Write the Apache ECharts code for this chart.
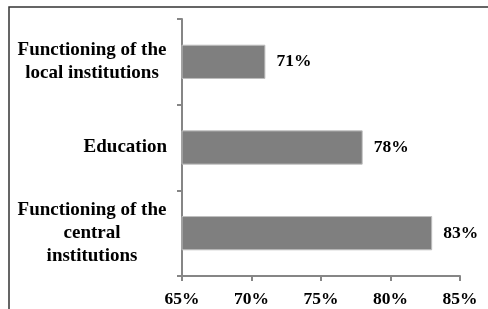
<!DOCTYPE html>
<html style="height: 100%">
<head>
    <meta charset="utf-8">
    <title>Bar chart</title>
</head>
<body style="height: 100%; margin: 0; background: #fff">
<div id="container" style="width: 488px; height: 309px"></div>
<script type="text/javascript" src="https://cdn.jsdelivr.net/npm/echarts@6/dist/echarts.min.js"></script>
<script type="text/javascript">
    var categories = ['Functioning of the\nlocal institutions', 'Education', 'Functioning of the\ncentral\ninstitutions'];
    var values = [71, 78, 83];
    var tickMin = 65, tickMax = 85, tickStep = 5;

    var font = 'Liberation Serif';
    var catSize = 19;
    var numSize = 17.5;

    // width of the widest line, so the multi-line labels can be centred inside it
    var ctx = document.createElement('canvas').getContext('2d');
    ctx.font = 'bold ' + catSize + 'px "' + font + '"';
    function blockWidth(lines) {
        var w = 0;
        lines.forEach(function (l) { w = Math.max(w, ctx.measureText(l).width); });
        return Math.ceil(w) + 1;
    }

    var myChart = echarts.init(document.getElementById('container'));

    var option = {
        animation: false,
        grid: { left: 182, right: 28, top: 19, bottom: 33 },
        graphic: [{
            type: 'polyline',
            shape: { points: [[9, 309], [9, 7], [488, 7]] },
            style: { stroke: '#333', lineWidth: 1.5, fill: null }
        }],
        xAxis: {
            type: 'value',
            min: tickMin,
            max: tickMax,
            interval: tickStep,
            axisLine: { show: true, lineStyle: { color: '#868686', width: 2 } },
            axisTick: { show: true, length: 5, lineStyle: { color: '#868686', width: 2 } },
            splitLine: { show: false },
            axisLabel: {
                formatter: '{value}%',
                margin: 14,
                color: '#000',
                fontFamily: font,
                fontWeight: 'bold',
                fontSize: numSize
            }
        },
        yAxis: {
            type: 'category',
            inverse: true,
            data: categories,
            axisLine: { show: true, lineStyle: { color: '#868686', width: 2 } },
            axisTick: { show: true, length: 5, lineStyle: { color: '#868686', width: 2 } },
            axisLabel: {
                margin: 15,
                color: '#000',
                fontFamily: font,
                fontWeight: 'bold',
                fontSize: catSize,
                lineHeight: 23,
                align: 'right',
                formatter: function (value) {
                    var lines = value.split('\n');
                    if (lines.length === 1) return value;
                    var w = blockWidth(lines);
                    return lines.map(function (l) {
                        return '{c' + w + '|' + l + '}';
                    }).join('\n');
                },
                rich: (function () {
                    var r = {};
                    categories.forEach(function (c) {
                        var lines = c.split('\n');
                        if (lines.length > 1) {
                            r['c' + blockWidth(lines)] = {
                                width: blockWidth(lines),
                                align: 'center',
                                color: '#000',
                                fontFamily: font,
                                fontWeight: 'bold',
                                fontSize: catSize,
                                lineHeight: 23
                            };
                        }
                    });
                    return r;
                })()
            }
        },
        series: [{
            type: 'bar',
            data: values,
            barWidth: '40%',
            itemStyle: { color: '#7f7f7f', borderColor: '#bfbfbf', borderWidth: 1 },
            label: {
                show: true,
                position: 'right',
                distance: 11,
                formatter: '{c}%',
                color: '#000',
                fontFamily: font,
                fontWeight: 'bold',
                fontSize: numSize
            }
        }]
    };
    myChart.setOption(option);
</script>
</body>
</html>
